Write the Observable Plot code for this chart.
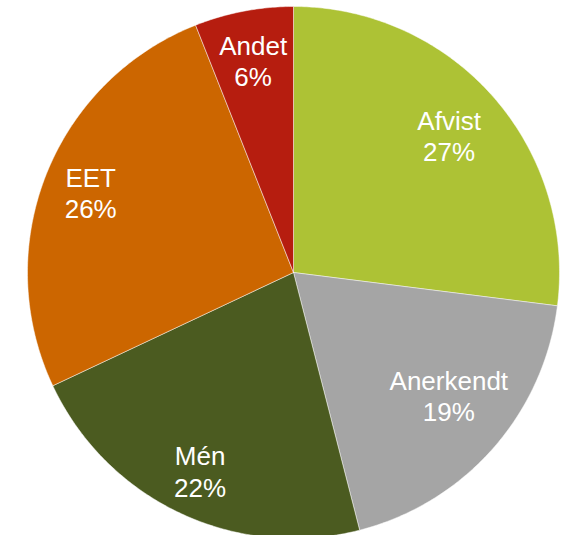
<!DOCTYPE html>
<html>
<head>
<meta charset="utf-8">
<script src="https://cdn.jsdelivr.net/npm/d3@7"></script>
<script src="https://cdn.jsdelivr.net/npm/@observablehq/plot@0.6"></script>
<style>
  html, body { margin: 0; padding: 0; background: #fff; }
  #chart svg { display: block; }
</style>
</head>
<body>
<div id="chart"></div>
<script>
const categories = ["Afvist", "Anerkendt", "Mén", "EET", "Andet"];
const shares = [27, 19, 22, 26, 6];
const colors = ["#adc235", "#a5a5a5", "#4b5b20", "#cc6600", "#b61d0f"];

const total = d3.sum(shares);
const pie = d3.pie().sort(null).value(d => d.value)(
  categories.map((c, i) => ({ name: c, value: shares[i] }))
);

// wedge outlines in data space (unit circle, angle clockwise from top)
const wedges = [];
pie.forEach(p => {
  const n = Math.max(2, Math.ceil((p.endAngle - p.startAngle) / 0.01));
  wedges.push({ name: p.data.name, x: 0, y: 0, k: 0 });
  for (let j = 0; j <= n; j++) {
    const a = p.startAngle + (p.endAngle - p.startAngle) * j / n;
    wedges.push({ name: p.data.name, x: Math.sin(a), y: Math.cos(a), k: j + 1 });
  }
  wedges.push({ name: p.data.name, x: 0, y: 0, k: n + 2 });
});

// label placement: fraction of radius and angular nudge (degrees), per slice in order
const labelRadius = [0.78, 0.745, 0.825, 0.82, 0.81];
const labelTurn = [0, -3, 0, 0, 0];
const labels = pie.map((p, i) => {
  const a = (p.startAngle + p.endAngle) / 2 + labelTurn[i] * Math.PI / 180;
  const r = labelRadius[i];
  return {
    x: r * Math.sin(a),
    y: r * Math.cos(a),
    text: `${p.data.name}\n${Math.round(p.data.value / total * 100)}%`
  };
});

const chart = Plot.plot({
  width: 562,
  height: 535,
  x: { domain: [-1, 1], range: [27, 559], axis: null },
  y: { domain: [-1, 1], range: [538, 6], axis: null },
  color: { domain: categories, range: colors },
  style: { fontFamily: "'Liberation Sans', Arial, Helvetica, sans-serif", background: "#fff" },
  marks: [
    Plot.line(wedges, {
      x: "x", y: "y", z: "name", fill: "name", stroke: "#ffffff",
      strokeWidth: 0.6, strokeOpacity: 0.8, curve: "linear-closed"
    }),
    Plot.text(labels, {
      x: "x", y: "y", text: "text", fill: "white",
      fontSize: 26, lineHeight: 1.2, textAnchor: "middle"
    })
  ]
});
document.getElementById("chart").appendChild(chart);
</script>
</body>
</html>
